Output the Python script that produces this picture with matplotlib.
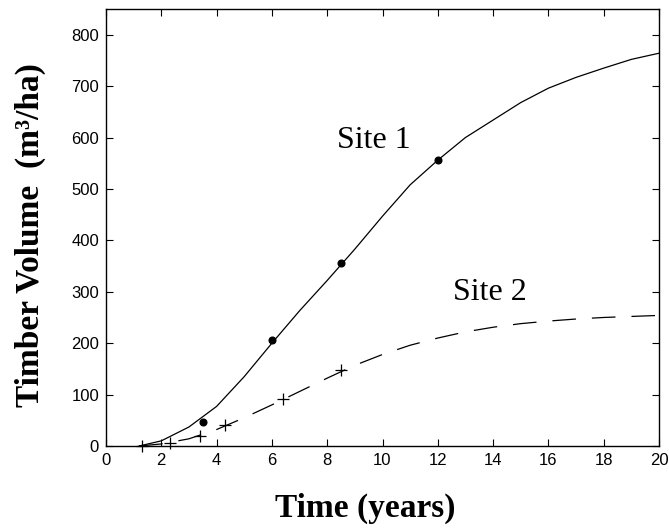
import matplotlib
matplotlib.use('Agg')
import matplotlib.pyplot as plt

# Fitted growth curves (m3/ha) by stand age
years = [1.2, 2, 3, 4, 5, 6, 7, 8, 9, 10, 11, 12, 13, 14, 15, 16, 17, 18, 19, 20]
site1_fit = [0, 10, 37, 77, 135, 200, 263, 322, 383, 447, 508, 556, 600, 634, 668, 696, 717, 735, 752, 764]
site2_fit = [0, 4, 14, 32, 55, 80, 106, 132, 157, 178, 196, 210, 222, 231, 238, 243, 247, 250, 252, 254]

# Measured plots
site1_obs_t = [3.5, 6, 8.5, 12]
site1_obs_v = [46, 206, 355, 557]
site2_obs_t = [1.3, 2.3, 3.4, 4.3, 6.4, 8.5]
site2_obs_v = [0, 5, 19, 40, 92, 147]

x_ticks = list(range(0, 21, 2))
y_ticks = list(range(0, 801, 100))

plt.rcParams['lines.scale_dashes'] = False
serif = 'Liberation Serif'
sans = 'Liberation Sans'

fig = plt.figure(figsize=(6.69, 5.31), dpi=100)
ax = fig.add_axes([106 / 669, 85 / 531, 553 / 669, 437 / 531])

ax.plot(years, site1_fit, color='black', lw=0.9)
ax.plot(years, site2_fit, color='black', lw=0.9, linestyle=(0, (17, 11.5)))
ax.plot(site1_obs_t, site1_obs_v, 'o', color='black', ms=4.8, clip_on=False)
ax.plot(site2_obs_t, site2_obs_v, '+', color='black', ms=9, mew=0.9, clip_on=False)

ax.text(9.69, 594, 'Site 1', family=serif, fontsize=23, ha='center', va='center')
ax.text(13.9, 298, 'Site 2', family=serif, fontsize=23, ha='center', va='center')

ax.set_xlim(0, 20)
ax.set_ylim(0, 850)
ax.set_xticks(x_ticks)
ax.set_yticks(y_ticks)
ax.tick_params(direction='in', length=5, width=0.8, top=True, right=True,
               labelsize=12, pad=5)
for lab in ax.get_xticklabels() + ax.get_yticklabels():
    lab.set_family(sans)
for s in ax.spines.values():
    s.set_linewidth(1.0)

fig.text(365 / 669, 1 - 508 / 531, 'Time (years)', family=serif, fontweight='bold',
         fontsize=24, ha='center', va='center')
fig.text(30 / 669, 1 - 235 / 531, 'Timber Volume  (m³/ha)', family=serif,
         fontweight='bold', fontsize=24, ha='center', va='center', rotation=90)

fig.savefig('out.png', dpi=100)
